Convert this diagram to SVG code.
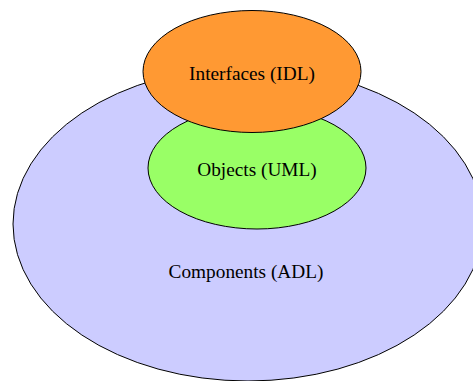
<svg xmlns="http://www.w3.org/2000/svg" width="473" height="381" viewBox="0 0 473 381">
  <style>
    .set { stroke: #000; stroke-width: 1; }
    .label { font-family: "Liberation Serif", "Times New Roman", serif; font-size: 19.3px; fill: #000; text-anchor: middle; }
  </style>
  <rect width="473" height="381" fill="#fff"/>
  <g id="components">
    <ellipse class="set" cx="248" cy="224" rx="235" ry="157" fill="#ccccff"/>
    <text class="label" x="246" y="277.5">Components (ADL)</text>
  </g>
  <g id="objects">
    <ellipse class="set" cx="257" cy="168" rx="109" ry="61" fill="#99ff66"/>
    <text class="label" x="257" y="176">Objects (UML)</text>
  </g>
  <g id="interfaces">
    <ellipse class="set" cx="252" cy="71.5" rx="109" ry="61" fill="#ff9933"/>
    <text class="label" x="252" y="79.5">Interfaces (IDL)</text>
  </g>
  <g id="connectors"/>
</svg>
